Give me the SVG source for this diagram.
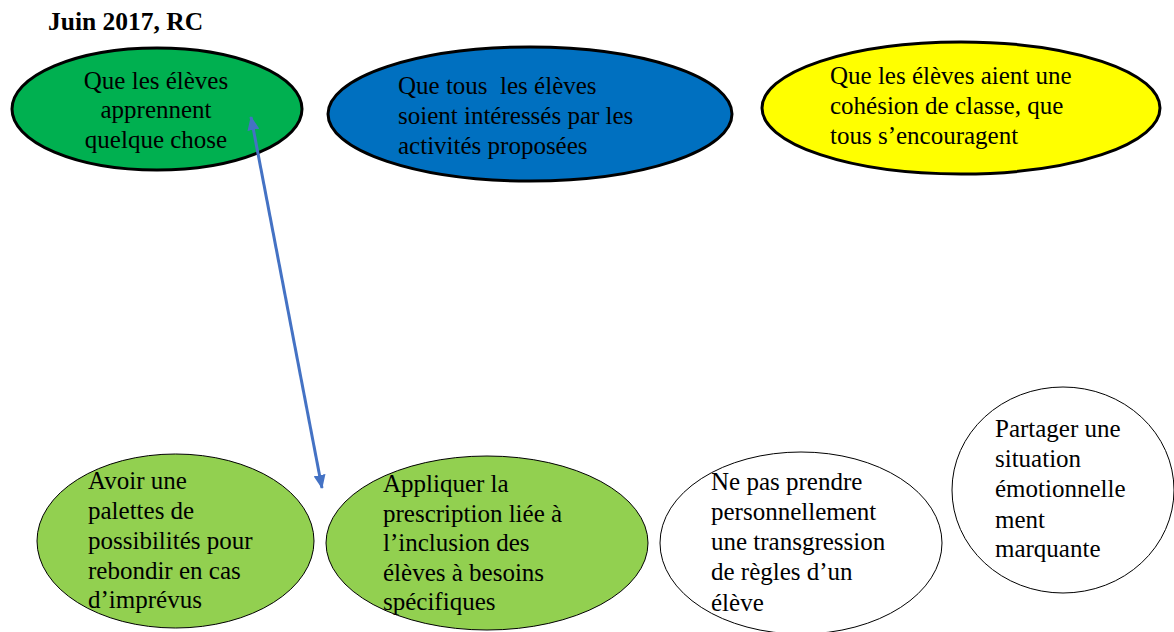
<svg xmlns="http://www.w3.org/2000/svg" width="1174" height="632" viewBox="0 0 1174 632">
<style>
  .t { font-family: "Liberation Serif", "Times New Roman", serif; font-size: 25px; fill: #000; }
  .title { font-family: "Liberation Serif", "Times New Roman", serif; font-size: 25.5px; font-weight: bold; fill: #000; }
  .thick { stroke: #000; stroke-width: 3; }
  .thin { stroke: #000; stroke-width: 1; }
  .conn { stroke: #4472C4; stroke-width: 3; fill: none; }
</style>
<defs>
  <marker id="ah" markerUnits="userSpaceOnUse" markerWidth="14" markerHeight="12" refX="13" refY="6" orient="auto-start-reverse" viewBox="0 0 14 12">
    <path d="M0,0 L14,6 L0,12 z" fill="#4472C4"/>
  </marker>
</defs>
<rect width="1174" height="632" fill="#fff"/>
<text class="title" x="48" y="30">Juin 2017, RC</text>

<g id="n1">
  <ellipse cx="157" cy="109" rx="145" ry="61" fill="#00B050" class="thick"/>
  <text class="t" text-anchor="middle"><tspan x="156" y="89">Que les élèves</tspan><tspan x="156" y="118">apprennent</tspan><tspan x="156" y="148">quelque chose</tspan></text>
</g>
<g id="n2">
  <ellipse cx="530" cy="114" rx="202" ry="67" fill="#0070C0" class="thick"/>
  <text class="t" xml:space="preserve"><tspan x="398" y="94">Que tous  les élèves</tspan><tspan x="398" y="124">soient intéressés par les</tspan><tspan x="398" y="154">activités proposées</tspan></text>
</g>
<g id="n3">
  <ellipse cx="961" cy="108" rx="199" ry="66" fill="#FFFF00" class="thick"/>
  <text class="t"><tspan x="830" y="84">Que les élèves aient une</tspan><tspan x="830" y="114">cohésion de classe, que</tspan><tspan x="830" y="144">tous s’encouragent</tspan></text>
</g>
<g id="n4">
  <ellipse cx="175.5" cy="541" rx="138.5" ry="87" fill="#92D050" class="thin"/>
  <text class="t"><tspan x="88" y="489">Avoir une</tspan><tspan x="88" y="519">palettes de</tspan><tspan x="88" y="549">possibilités pour</tspan><tspan x="88" y="579">rebondir en cas</tspan><tspan x="88" y="608">d’imprévus</tspan></text>
</g>
<g id="n5">
  <ellipse cx="487" cy="543" rx="161" ry="87" fill="#92D050" class="thin"/>
  <text class="t"><tspan x="383" y="492">Appliquer la</tspan><tspan x="383" y="522">prescription liée à</tspan><tspan x="383" y="551">l’inclusion des</tspan><tspan x="383" y="581">élèves à besoins</tspan><tspan x="383" y="610">spécifiques</tspan></text>
</g>
<g id="n6">
  <ellipse cx="801" cy="543" rx="141" ry="91" fill="#fff" class="thin"/>
  <text class="t"><tspan x="711" y="490">Ne pas prendre</tspan><tspan x="711" y="520">personnellement</tspan><tspan x="711" y="550">une transgression</tspan><tspan x="711" y="580">de règles d’un</tspan><tspan x="711" y="611">élève</tspan></text>
</g>
<g id="n7">
  <ellipse cx="1063" cy="490" rx="111" ry="103" fill="#fff" class="thin"/>
  <text class="t"><tspan x="995" y="437">Partager une</tspan><tspan x="995" y="467">situation</tspan><tspan x="995" y="497">émotionnelle</tspan><tspan x="995" y="528">ment</tspan><tspan x="995" y="557">marquante</tspan></text>
</g>

<g id="connectors">
  <line class="conn" x1="251" y1="117" x2="322" y2="488" marker-start="url(#ah)" marker-end="url(#ah)"/>
</g>
</svg>
